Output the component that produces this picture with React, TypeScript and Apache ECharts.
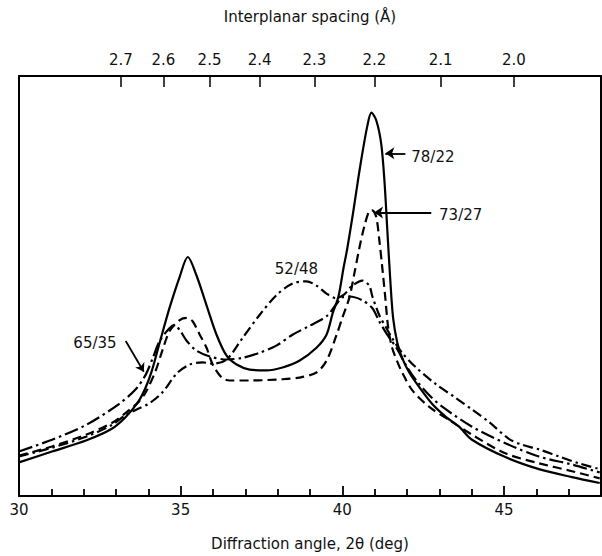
import React, { useEffect, useRef } from "react";
import * as echarts from "echarts";

// Cu K-alpha wavelength (Å) used for the interplanar spacing axis
const LAMBDA = 1.5406;
const dSpacingTicks = [2.7, 2.6, 2.5, 2.4, 2.3, 2.2, 2.1, 2.0];
const angleLabels = [30, 35, 40, 45];
const angleMajorTicks = [35, 40, 45];
const angleMinorTicks = [31, 32, 33, 34, 36, 37, 38, 39, 41, 42, 43, 44, 46, 47];

// 78/22 (solid)
const s7822X = [30.0, 31.02, 32.07, 32.87, 33.3, 33.7, 33.92, 34.1, 34.35, 34.66, 34.97, 35.22, 35.49, 35.8, 36.11, 36.42, 36.73, 37.13, 37.65, 38.15, 38.67, 39.2, 39.51, 39.7, 39.88, 40.03, 40.15, 40.34, 40.55, 40.77, 40.9, 41.05, 41.2, 41.3, 41.39, 41.48, 41.57, 41.7, 41.85, 42.07, 42.38, 42.78, 43.21, 43.61, 44.01, 45.06, 46.08, 47.1, 47.96];
const s7822Y = [8.0, 10.6, 13.2, 16.0, 18.8, 22.6, 25.9, 29.6, 36.5, 44.9, 52.2, 56.9, 52.5, 45.4, 38.4, 33.4, 31.3, 30.1, 29.9, 30.6, 32.2, 35.3, 38.4, 43.5, 47.5, 54.0, 58.8, 67.8, 78.4, 88.0, 91.3, 89.4, 84.0, 75.3, 63.5, 51.8, 42.4, 36.5, 32.9, 29.4, 25.9, 21.9, 18.8, 16.5, 13.4, 9.2, 6.4, 4.5, 3.1];

// 73/27 (dashed)
const s7327X = [30.0, 31.02, 32.07, 32.87, 33.3, 33.7, 33.92, 34.23, 34.44, 34.66, 34.97, 35.19, 35.37, 35.59, 35.8, 35.99, 36.27, 36.51, 37.13, 38.15, 38.67, 39.2, 39.51, 39.81, 40.0, 40.22, 40.37, 40.52, 40.68, 40.83, 40.93, 41.05, 41.14, 41.23, 41.33, 41.42, 41.54, 41.7, 41.85, 42.16, 42.69, 43.3, 44.01, 45.06, 46.08, 47.1, 47.96];
const s7327Y = [9.6, 11.8, 14.6, 17.4, 19.8, 22.4, 24.7, 29.9, 34.8, 39.3, 41.9, 42.4, 41.6, 38.4, 35.3, 31.3, 28.2, 27.5, 27.5, 27.8, 28.2, 29.4, 32.2, 38.1, 42.4, 47.3, 52.9, 58.8, 64.2, 67.8, 68.0, 66.4, 61.2, 54.8, 47.1, 40.0, 35.3, 32.0, 29.4, 25.2, 21.2, 18.1, 14.6, 10.1, 7.8, 5.9, 4.2];

// 65/35 (long dash-dot)
const s6535X = [30.0, 31.02, 32.07, 33.09, 33.61, 33.92, 34.14, 34.35, 34.66, 34.81, 34.97, 35.19, 35.49, 35.9, 36.42, 36.91, 37.44, 37.96, 38.46, 38.98, 39.51, 39.81, 40.0, 40.22, 40.62, 40.93, 41.14, 41.39, 41.67, 41.98, 42.28, 42.69, 43.1, 44.01, 45.06, 46.08, 47.1, 47.96];
const s6535Y = [10.6, 13.4, 16.9, 21.9, 25.4, 28.9, 32.9, 36.9, 40.0, 40.7, 39.5, 36.9, 34.6, 33.2, 32.5, 32.9, 34.1, 35.8, 38.4, 40.5, 42.8, 45.6, 47.3, 47.5, 46.6, 44.7, 41.6, 38.4, 35.3, 31.0, 27.6, 24.0, 21.2, 16.5, 12.5, 9.4, 7.5, 5.6];

// 52/48 (dash-dot)
const s5248X = [30.0, 31.02, 32.07, 32.87, 33.3, 33.61, 34.04, 34.44, 34.88, 35.28, 35.68, 35.99, 36.42, 36.91, 37.44, 37.96, 38.46, 38.89, 39.2, 39.51, 39.81, 40.06, 40.28, 40.62, 40.83, 40.93, 41.14, 41.36, 41.54, 41.85, 42.28, 42.9, 43.5, 44.01, 44.54, 45.15, 45.56, 46.08, 46.7, 47.31, 47.96];
const s5248Y = [9.4, 11.5, 14.1, 16.9, 19.3, 20.5, 22.1, 24.7, 29.2, 31.3, 31.8, 31.5, 32.5, 37.6, 43.1, 47.8, 50.6, 51.1, 50.1, 48.2, 47.1, 48.0, 49.9, 51.3, 50.1, 47.5, 43.1, 40.0, 37.6, 34.1, 30.6, 26.6, 23.4, 20.6, 17.6, 13.6, 12.2, 11.1, 9.4, 7.8, 6.4];

const curveLabels = ["78/22", "73/27", "65/35", "52/48"];

const zip = (xs: number[], ys: number[]) => xs.map((x, i) => [x, ys[i]]);
const toTwoTheta = (d: number) => (2 * Math.asin(LAMBDA / (2 * d)) * 180) / Math.PI;
const toD = (tt: number) => LAMBDA / (2 * Math.sin((tt / 2) * (Math.PI / 180)));

const FONT = "DejaVu Sans";
const INK = "#111";
const Y_MAX = 100;
const PLOT_HEIGHT_PX = 424;

export default function App() {
  const ref = useRef<HTMLDivElement>(null);
  useEffect(() => {
    if (!ref.current) return;
    const chart = echarts.init(ref.current, null, { renderer: "svg" });
    const topTicks = dSpacingTicks.map(toTwoTheta);
    const pxToY = (px: number) => (px * Y_MAX) / PLOT_HEIGHT_PX;
    const tickSegment = (v: number, lenPx: number) => [{ coord: [v, 0] }, { coord: [v, pxToY(lenPx)] }];
    const textLabel = (text: string) => ({
      show: true,
      position: "inside",
      formatter: text,
      color: INK,
      fontFamily: FONT,
      fontSize: 15,
    });
    const arrowLine = (from: number[], to: number[]) => [
      { coord: from, symbol: "none" },
      { coord: to, symbol: "arrow" },
    ];
    const base = {
      type: "line",
      showSymbol: false,
      symbol: "none",
      smooth: 0.3,
      xAxisIndex: 0,
      yAxisIndex: 0,
    };
    chart.setOption({
      animation: false,
      grid: { left: 19, right: 1, top: 76, bottom: 56 },
      xAxis: [
        {
          type: "value",
          position: "bottom",
          min: 30,
          max: 48,
          interval: 5,
          name: "Diffraction angle, 2θ (deg)",
          nameLocation: "middle",
          nameGap: 40,
          nameTextStyle: { color: INK, fontFamily: FONT, fontSize: 15 },
          axisLine: { show: true, onZero: false, lineStyle: { color: "#000", width: 2 } },
          axisTick: { show: false },
          axisLabel: {
            show: true,
            margin: 6,
            customValues: angleLabels,
            color: INK,
            fontFamily: FONT,
            fontSize: 15,
          },
          splitLine: { show: false },
        },
        {
          type: "value",
          position: "top",
          min: 30,
          max: 48,
          name: "Interplanar spacing (Å)",
          nameLocation: "middle",
          nameGap: 52,
          nameTextStyle: { color: INK, fontFamily: FONT, fontSize: 15 },
          axisLine: { show: true, onZero: false, lineStyle: { color: "#000", width: 2 } },
          axisTick: { show: true, inside: true, length: 11, customValues: topTicks, lineStyle: { color: "#000", width: 1.5 } },
          axisLabel: {
            show: true,
            margin: 9,
            customValues: topTicks,
            color: INK,
            fontFamily: FONT,
            fontSize: 15,
            formatter: (v: number) => toD(v).toFixed(1),
          },
          splitLine: { show: false },
        },
      ],
      yAxis: [
        {
          type: "value",
          position: "left",
          min: 0,
          max: Y_MAX,
          axisLine: { show: true, onZero: false, lineStyle: { color: "#000", width: 2 } },
          axisTick: { show: false },
          axisLabel: { show: false },
          splitLine: { show: false },
        },
        {
          type: "value",
          position: "right",
          min: 0,
          max: Y_MAX,
          axisLine: { show: true, onZero: false, lineStyle: { color: "#000", width: 2 } },
          axisTick: { show: false },
          axisLabel: { show: false },
          splitLine: { show: false },
        },
      ],
      series: [
        {
          ...base,
          name: curveLabels[0],
          data: zip(s7822X, s7822Y),
          lineStyle: { color: "#000", width: 2.2, type: "solid" },
          markLine: {
            symbol: "none",
            symbolSize: 9,
            label: { show: false },
            lineStyle: { color: "#000", width: 1.8, type: "solid" },
            data: [
              arrowLine([41.95, 81.6], [41.33, 81.6]),
              ...angleMajorTicks.map((v) => tickSegment(v, 10)),
              ...angleMinorTicks.map((v) => tickSegment(v, 7)),
            ],
          },
          markPoint: {
            symbol: "circle",
            symbolSize: 0,
            data: [{ coord: [42.8, 80.6], label: textLabel(curveLabels[0]) }],
          },
        },
        {
          ...base,
          name: curveLabels[1],
          data: zip(s7327X, s7327Y),
          lineStyle: { color: "#000", width: 2.2, type: [9, 5] },
          markLine: {
            symbolSize: 9,
            label: { show: false },
            lineStyle: { color: "#000", width: 2, type: "solid" },
            data: [arrowLine([42.75, 67.5], [40.98, 67.5])],
          },
          markPoint: {
            symbol: "circle",
            symbolSize: 0,
            data: [{ coord: [43.66, 67.0], label: textLabel(curveLabels[1]) }],
          },
        },
        {
          ...base,
          name: curveLabels[2],
          data: zip(s6535X, s6535Y),
          lineStyle: { color: "#000", width: 2.2, type: [14, 4, 2.5, 4] },
          markLine: {
            symbolSize: 8,
            label: { show: false },
            lineStyle: { color: "#000", width: 1.8, type: "solid" },
            data: [arrowLine([33.3, 36.9], [33.86, 29.6])],
          },
          markPoint: {
            symbol: "circle",
            symbolSize: 0,
            data: [{ coord: [32.35, 36.5], label: textLabel(curveLabels[2]) }],
          },
        },
        {
          ...base,
          name: curveLabels[3],
          data: zip(s5248X, s5248Y),
          lineStyle: { color: "#000", width: 2.2, type: [10, 4, 2.5, 4] },
          markPoint: {
            symbol: "circle",
            symbolSize: 0,
            data: [{ coord: [38.58, 54.1], label: textLabel(curveLabels[3]) }],
          },
        },
      ],
    });
    return () => chart.dispose();
  }, []);
  return (
    <div
      ref={ref}
      style={{ position: "absolute", left: 0, top: 0, width: 602, height: 556, background: "#fff" }}
    />
  );
}
